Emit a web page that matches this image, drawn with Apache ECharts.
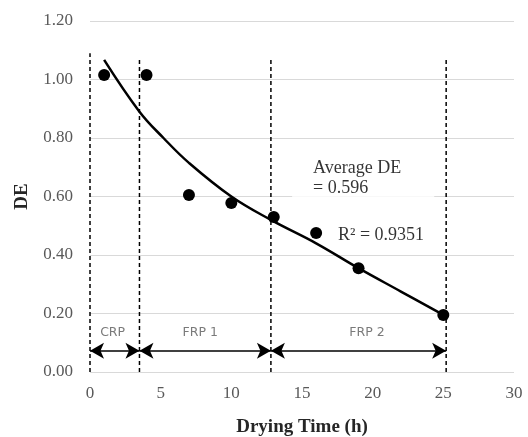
<!DOCTYPE html>
<html>
<head>
<meta charset="utf-8">
<script src="https://cdn.jsdelivr.net/npm/echarts@6/dist/echarts.min.js"></script>
<style>
  html, body { margin: 0; padding: 0; background: #fff; }
</style>
</head>
<body>
<div id="main" style="width: 528px; height: 437px"></div>
<script>
// measured points
const timeH = [1, 4, 7, 10, 13, 16, 19, 25];
const deValues = [1.015, 1.015, 0.605, 0.578, 0.53, 0.475, 0.355, 0.195];

// trend line
const trendX = [1, 3.5, 5.2, 7, 10, 12.8, 16, 19, 22, 25];
const trendY = [1.067, 0.89, 0.80, 0.715, 0.60, 0.52, 0.44, 0.355, 0.275, 0.195];

// dashed phase dividers
const dividerX = [0, 3.5, 12.8, 25.2];
const dividerTop = [1.09, 1.07, 1.07, 1.075];

// drying phases
const phaseNames = ['CRP', 'FRP 1', 'FRP 2'];
const phaseStart = [0, 3.5, 12.8];
const phaseEnd = [3.5, 12.8, 25.2];
const phaseLabelX = [1.6, 7.8, 19.6];
const phaseLabelY = 0.135;
const arrowY = 0.073;

const xTicks = [0, 5, 10, 15, 20, 25, 30];
const yTicks = [0, 0.2, 0.4, 0.6, 0.8, 1.0, 1.2];

const avgText = 'Average DE\n= 0.596';
const r2Text = 'R² = 0.9351';

const serif = 'Liberation Serif';
const chart = echarts.init(document.getElementById('main'));

const dividerSeries = dividerX.map((x, i) => ({
  type: 'line',
  data: [[x, 0], [x, dividerTop[i]]],
  showSymbol: false,
  silent: true,
  z: 1,
  lineStyle: { color: '#000', width: 1.5, type: [4, 3] }
}));

const option = {
  animation: false,
  grid: { left: 90, right: 14, top: 21, bottom: 65, outerBoundsMode: 'none' },
  xAxis: {
    type: 'value',
    min: xTicks[0],
    max: xTicks[xTicks.length - 1],
    interval: 5,
    name: 'Drying Time (h)',
    nameLocation: 'middle',
    nameGap: 46,
    nameTextStyle: { fontFamily: serif, fontWeight: 'bold', fontSize: 19, color: '#262626' },
    axisLine: { show: false },
    axisTick: { show: false },
    splitLine: { show: false },
    axisLabel: { fontFamily: serif, fontSize: 17, color: '#595959', margin: 13 }
  },
  yAxis: {
    type: 'value',
    min: yTicks[0],
    max: yTicks[yTicks.length - 1],
    interval: 0.2,
    name: 'DE',
    nameLocation: 'middle',
    nameGap: 58,
    nameTextStyle: { fontFamily: serif, fontWeight: 'bold', fontSize: 19, color: '#262626' },
    axisLine: { show: false },
    axisTick: { show: false },
    splitLine: { lineStyle: { color: '#d9d9d9', width: 1 } },
    axisLabel: {
      fontFamily: serif, fontSize: 17, color: '#595959', margin: 17,
      formatter: v => v.toFixed(2)
    }
  },
  series: [
    ...dividerSeries,
    {
      // arrows under each phase
      type: 'line',
      data: [],
      markLine: {
        silent: true,
        symbol: ['arrow', 'arrow'],
        symbolSize: [12, 14],
        label: { show: false },
        lineStyle: { color: '#000', width: 1.5, type: 'solid' },
        data: phaseNames.map((n, i) => [
          { coord: [phaseStart[i], arrowY] },
          { coord: [phaseEnd[i], arrowY] }
        ])
      }
    },
    {
      type: 'scatter',
      data: phaseNames.map((n, i) => [phaseLabelX[i], phaseLabelY, n]),
      symbolSize: 0,
      silent: true,
      label: {
        show: true,
        position: 'inside',
        formatter: p => p.data[2],
        fontFamily: 'DejaVu Sans',
        fontSize: 12.5,
        color: '#595959'
      }
    },
    {
      type: 'scatter',
      data: [[14.3, 0.759]],
      symbolSize: 0,
      silent: true,
      z: 3,
      label: {
        show: true,
        position: [0, 0],
        align: 'left',
        verticalAlign: 'top',
        formatter: avgText,
        fontFamily: serif,
        fontSize: 18,
        lineHeight: 20,
        color: '#000',
        backgroundColor: '#fff',
        padding: [8, 33, 6, 21]
      }
    },
    {
      type: 'scatter',
      data: [[17.55, 0.468]],
      symbolSize: 0,
      silent: true,
      label: {
        show: true,
        position: [0, 0],
        align: 'left',
        verticalAlign: 'middle',
        formatter: r2Text,
        fontFamily: serif,
        fontSize: 18,
        color: '#000'
      }
    },
    {
      type: 'line',
      data: trendX.map((x, i) => [x, trendY[i]]),
      smooth: 0.4,
      showSymbol: false,
      z: 4,
      lineStyle: { color: '#000', width: 2.5 }
    },
    {
      type: 'scatter',
      data: timeH.map((x, i) => [x, deValues[i]]),
      symbolSize: 12,
      z: 5,
      itemStyle: { color: '#000', opacity: 1 }
    }
  ]
};

chart.setOption(option);
</script>
</body>
</html>
